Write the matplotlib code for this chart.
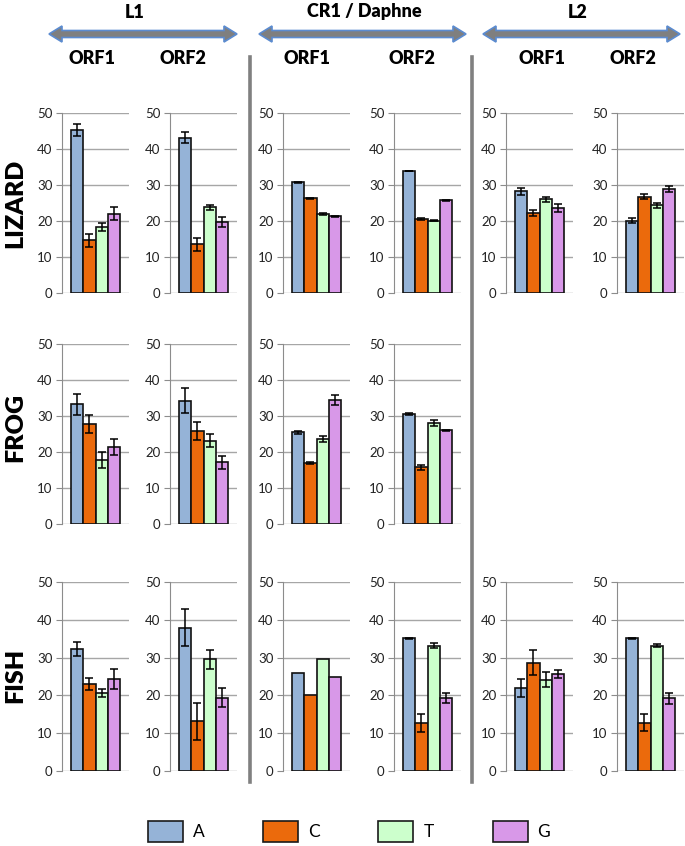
import matplotlib
matplotlib.use("Agg")
import matplotlib.pyplot as plt
from matplotlib.patches import Polygon, Rectangle
from matplotlib.lines import Line2D

plt.rcParams['font.family'] = ['Lato', 'DejaVu Sans']

# podaci
baze = ['A', 'C', 'T', 'G']
boje = ['#95b3d7', '#eb6a0c', '#ccffcc', '#d898e8']
grupe = ['L1', 'CR1 / Daphne', 'L2']
orfovi = ['ORF1', 'ORF2']
vrste = ['LIZARD', 'FROG', 'FISH']

# redoslijed panela: L1 ORF1, L1 ORF2, CR1 ORF1, CR1 ORF2, L2 ORF1, L2 ORF2
lizard_val = [[45.2, 14.6, 18.3, 22.0], [43.1, 13.6, 23.8, 19.7],
              [30.7, 26.3, 21.9, 21.3], [33.9, 20.6, 20.1, 25.7],
              [28.2, 22.2, 26.1, 23.6], [20.1, 26.7, 24.4, 28.9]]
lizard_err = [[1.7, 1.9, 1.2, 1.8], [1.5, 1.8, 0.7, 1.5],
              [0.2, 0.2, 0.2, 0.2], [0.1, 0.2, 0.2, 0.2],
              [1.1, 0.9, 0.7, 1.2], [0.6, 0.7, 0.7, 0.8]]

frog_val = [[33.2, 27.8, 17.8, 21.4], [34.3, 25.7, 23.1, 17.1],
            [25.5, 16.9, 23.6, 34.4], [30.5, 15.7, 28.1, 26.0],
            None, None]
frog_err = [[3.0, 2.5, 2.2, 2.1], [3.6, 2.5, 1.8, 1.9],
            [0.4, 0.2, 0.8, 1.3], [0.2, 0.6, 0.8, 0.2],
            None, None]

fish_val = [[32.3, 23.0, 20.7, 24.3], [37.9, 13.2, 29.5, 19.4],
            [25.9, 20.2, 29.5, 24.9], [35.1, 12.7, 33.2, 19.3],
            [22.0, 28.6, 24.1, 25.7], [35.1, 12.8, 33.2, 19.2]]
fish_err = [[1.8, 1.7, 1.1, 2.6], [4.9, 4.9, 2.6, 2.5],
            [0, 0, 0, 0], [0.1, 2.3, 0.6, 1.4],
            [2.3, 3.3, 2.0, 1.0], [0.1, 2.2, 0.5, 1.4]]

svi_val = [lizard_val, frog_val, fish_val]
svi_err = [lizard_err, frog_err, fish_err]

W, H = 685, 846
fig = plt.figure(figsize=(W / 100, H / 100), dpi=100)


def fx(x):
    return x / W


def fy(y):
    return 1 - y / H


# položaji panela u pikselima
lijevo = [62, 170, 283, 394, 506, 617]
sirina = 67
redovi = [(113, 293), (344, 524), (582, 771)]

for r, (vrh, dno) in enumerate(redovi):
    for p in range(6):
        vals = svi_val[r][p]
        if vals is None:
            continue
        errs = svi_err[r][p]
        ax = fig.add_axes([fx(lijevo[p]), fy(dno), sirina / W, (dno - vrh) / H])
        x = list(range(len(baze)))
        ax.bar(x, vals, width=1.0, color=boje, edgecolor='#111111', linewidth=1.2, zorder=3)
        if any(e > 0 for e in errs):
            ax.errorbar(x, vals, yerr=errs, fmt='none', ecolor='black',
                        elinewidth=1.1, capsize=3.2, capthick=1.1, zorder=4)
        ax.set_ylim(0, 50)
        ax.set_xlim(-1.24, 4.24)
        ax.set_yticks(range(0, 51, 10))
        ax.set_xticks([])
        ax.yaxis.grid(True, color='#a6a6a6', linewidth=1)
        ax.set_axisbelow(True)
        for s in ['top', 'right', 'bottom']:
            ax.spines[s].set_visible(False)
        ax.spines['left'].set_color('#8c8c8c')
        ax.tick_params(axis='y', length=4, color='#8c8c8c', labelsize=9.5, pad=3,
                       labelcolor='#222222')
        for t in ax.get_yticklabels():
            t.set_clip_on(False)

# nazivi vrsta
vrste_y = [203, 427, 675]
for ime, yy in zip(vrste, vrste_y):
    fig.text(fx(15), fy(yy), ime, rotation=90, fontsize=18, fontweight='heavy',
             ha='center', va='center')

# naslovi grupa i strelice
naslov_x = [135, 364, 578]
strelice = [(49, 237), (259, 466), (483, 680)]
orf_x = [92, 183, 307, 412, 542, 633]

for g, ime in enumerate(grupe):
    fig.text(fx(naslov_x[g]), fy(12), ime, fontsize=13, fontweight='heavy',
             ha='center', va='center')
    x0, x1 = strelice[g]
    yc, sh, hh, hl = 34, 3.5, 8, 13
    tocke = [(x0, yc), (x0 + hl, yc - hh), (x0 + hl, yc - sh), (x1 - hl, yc - sh),
             (x1 - hl, yc - hh), (x1, yc), (x1 - hl, yc + hh), (x1 - hl, yc + sh),
             (x0 + hl, yc + sh), (x0 + hl, yc + hh)]
    fig.patches.append(Polygon([(fx(a), fy(b)) for a, b in tocke], closed=True,
                               transform=fig.transFigure, facecolor='#7f7f7f',
                               edgecolor='#5b8bd0', linewidth=1.2))

for i in range(6):
    fig.text(fx(orf_x[i]), fy(58), orfovi[i % 2], fontsize=13, fontweight='heavy',
             ha='center', va='center')

# sive okomite crte
for xx in [250, 472]:
    fig.lines.append(Line2D([fx(xx), fx(xx)], [fy(57), fy(782)], transform=fig.transFigure,
                            color='#808080', linewidth=2.6))

# legenda
leg_x = [148, 263, 378, 493]
for b, c, xx in zip(baze, boje, leg_x):
    fig.patches.append(Rectangle((fx(xx), fy(842)), 35 / W, 21 / H, transform=fig.transFigure,
                                 facecolor=c, edgecolor='#1a1a1a', linewidth=1.2))
    fig.text(fx(xx + 51), fy(832), b, fontsize=12.5, ha='center', va='center')

plt.savefig('out.png', dpi=100)
